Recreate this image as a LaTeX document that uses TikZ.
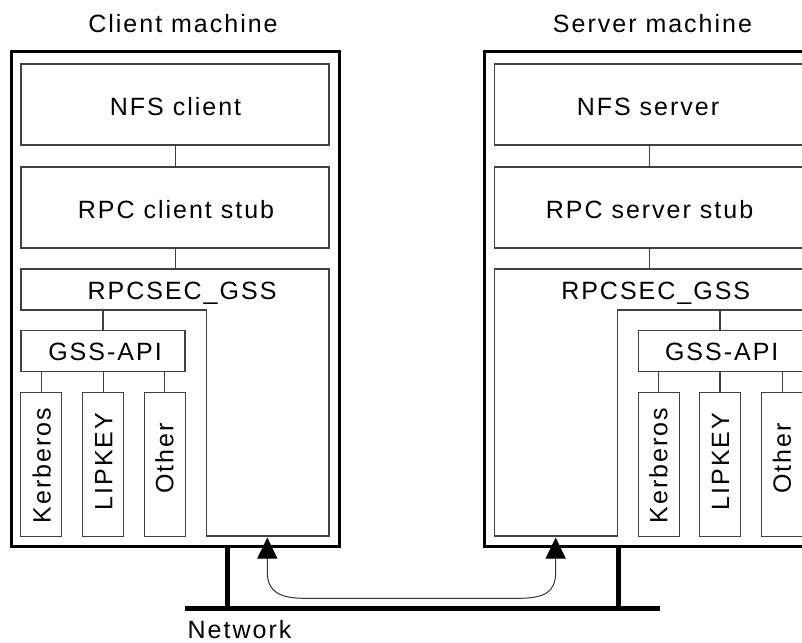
\documentclass[tikz,border=0pt]{standalone}
\usepackage{fontspec}
\newfontfamily\lblfont{Liberation Sans}[LetterSpace=8]
\usetikzlibrary{arrows.meta}
\begin{document}
\begin{tikzpicture}[x=1pt,y=-1pt,
  thinl/.style={draw=black!75, line width=1.1pt},
  box/.style={thinl, rectangle, inner sep=0pt, outer sep=0pt},
  outerbox/.style={draw=black, line width=3pt, rectangle, inner sep=0pt, outer sep=0pt},
  lbl/.style={font=\lblfont\fontsize{25}{30}\selectfont, inner sep=0pt, anchor=base},
  vlbl/.style={font=\lblfont\fontsize{25}{30}\selectfont, inner sep=0pt, rotate=90},
  netw/.style={draw=black, line width=5pt},
  link/.style={draw=black!80, line width=1pt,
    {Triangle[width=20pt,length=21pt,color=black]}-{Triangle[width=20pt,length=21pt,color=black]}}
]
\useasboundingbox (0,0) rectangle (802,642);
\clip (0,0) rectangle (802,642);

% ---------- titles ----------
\node[lbl] (tC) at (183,33) {Client machine};
\node[lbl] (tS) at (652.5,33) {Server machine};

% ---------- outer machine boxes ----------
\node[outerbox, minimum width=328pt, minimum height=494pt] (cmach) at (175,299) {};
\node[outerbox, minimum width=328pt, minimum height=494pt] (smach) at (648,299) {};

% ---------- client stack ----------
\node[box, minimum width=308pt, minimum height=81pt] (nfsc) at (175,104.5) {};
\node[box, minimum width=308pt, minimum height=81pt] (rpcc) at (175,207.5) {};
\node[lbl] (lnfsc) at (175.5,115) {NFS client};
\node[lbl] (lrpcc) at (176,218) {RPC client stub};
\draw[thinl] (21,269) -- (329,269) -- (329,536) -- (206.7,536) -- (206.7,310) -- (21,310) -- cycle;
\coordinate (secCtop) at (175.7,269);
\coordinate (secCbot) at (103,310);
\node[lbl] (lsecc) at (182,299) {RPCSEC\_GSS};
\node[box, minimum width=164pt, minimum height=41pt] (gssc) at (103,351.2) {};
\node[lbl] (lgssc) at (105,360.5) {GSS-API};
\node[box, minimum width=41pt, minimum height=144pt] (kerbc) at (41.3,464.7) {};
\node[box, minimum width=41pt, minimum height=144pt] (lipc) at (103.3,464.7) {};
\node[box, minimum width=41pt, minimum height=144pt] (othc) at (164.8,464.7) {};
\node[vlbl] (lkerbc) at (41.6,465.8) {Kerberos};
\node[vlbl] (llipc) at (103.8,461.7) {LIPKEY};
\node[vlbl] (lothc) at (164.4,458.3) {Other};
\draw[thinl] (nfsc.south -| secCtop) -- (rpcc.north -| secCtop);
\draw[thinl] (rpcc.south -| secCtop) -- (secCtop);
\draw[thinl] (secCbot) -- (secCbot |- gssc.north);
\draw[thinl] (kerbc.north) -- (kerbc.north |- gssc.south);
\draw[thinl] (lipc.north) -- (lipc.north |- gssc.south);
\draw[thinl] (othc.north) -- (othc.north |- gssc.south);

% ---------- server stack ----------
\node[box, minimum width=310pt, minimum height=81pt] (nfss) at (649.3,104.5) {};
\node[box, minimum width=310pt, minimum height=81pt] (rpcs) at (649.3,207.5) {};
\node[lbl] (lnfss) at (648,115) {NFS server};
\node[lbl] (lrpcs) at (649.5,218) {RPC server stub};
\draw[thinl] (494.3,269) -- (806,269) -- (806,310) -- (617.3,310) -- (617.3,536) -- (494.3,536) -- cycle;
\coordinate (secStop) at (649.3,269);
\coordinate (secSbot) at (720,310);
\node[lbl] (lsecs) at (655.7,299) {RPCSEC\_GSS};
\node[box, minimum width=166pt, minimum height=41pt] (gsss) at (721.3,351.2) {};
\node[lbl] (lgsss) at (721.7,360.5) {GSS-API};
\node[box, minimum width=41pt, minimum height=144pt] (kerbs) at (658.7,464.7) {};
\node[box, minimum width=41pt, minimum height=144pt] (lips) at (720,464.7) {};
\node[box, minimum width=42pt, minimum height=144pt] (oths) at (782.7,464.7) {};
\node[vlbl] (lkerbs) at (658.5,465.8) {Kerberos};
\node[vlbl] (llips) at (720.5,461.7) {LIPKEY};
\node[vlbl] (loths) at (782,458.3) {Other};
\draw[thinl] (nfss.south) -- (rpcs.north);
\draw[thinl] (rpcs.south) -- (secStop);
\draw[thinl] (secSbot) -- (secSbot |- gsss.north);
\draw[thinl] (kerbs.north) -- (kerbs.north |- gsss.south);
\draw[thinl] (lips.north) -- (lips.north |- gsss.south);
\draw[thinl] (oths.north) -- (oths.north |- gsss.south);

% ---------- network ----------
\coordinate (netL) at (185,608.3);
\coordinate (netR) at (660,608.3);
\coordinate (dropC) at (227,608.3);
\coordinate (dropS) at (618,608.3);
\draw[netw] (netL) -- (netR);
\draw[netw] (dropC |- cmach.south) -- (dropC);
\draw[netw] (dropS |- smach.south) -- (dropS);
\node[lbl] (lnet) at (239.5,638) {Network};

% ---------- logical connection ----------
\coordinate (tipC) at (267.3,537.5);
\coordinate (tipS) at (555.7,537.5);
\draw[link]
  (tipC) -- (267.3,572) .. controls (267.3,592) and (280,598.3) .. (305,598.3)
  -- (518,598.3) .. controls (545,598.3) and (555.7,592) .. (555.7,572) -- (tipS);
\end{tikzpicture}
\end{document}
